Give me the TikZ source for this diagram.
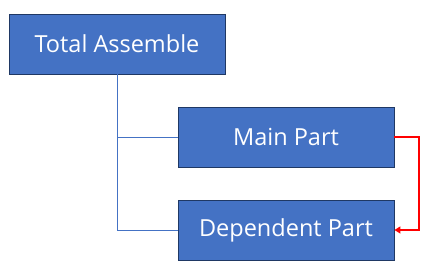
\documentclass[tikz,border=0pt]{standalone}
\usepackage{fontspec}
\setmainfont{Open Sans}
\usepackage{xcolor}
\usepackage{tikz}
\usetikzlibrary{positioning,arrows.meta}
\definecolor{partblue}{HTML}{4472C4}
\definecolor{partedge}{HTML}{1F3864}
\definecolor{linkred}{HTML}{FF0000}

\tikzset{
    partbox/.style={
        draw=partedge,
        fill=partblue,
        line width=0.9pt,
        text=white,
        minimum width=216pt,
        minimum height=60pt,
        inner sep=0pt,
        font=\fontsize{23.5}{26}\selectfont
    },
    treeline/.style={draw=partblue, line width=0.9pt},
    depline/.style={draw=linkred, line width=2.2pt, -{Triangle[length=6pt,width=7pt]}}
}

\begin{document}
\begin{tikzpicture}[x=1pt,y=-1pt]
\useasboundingbox (0,0) rectangle (432,280);

% tree
\node[partbox] (total) at (117,44) {Total Assemble};
\node[partbox] (main) at (286,137) {Main Part};
\node[partbox] (dep) at (286,230) {Dependent Part};

\draw[treeline] (total.south) |- (main.west);
\draw[treeline] (total.south) |- (dep.west);

% dependency
\coordinate (bend) at (419,137);
\draw[depline] (main.east) -- (bend) |- (dep.east);
\end{tikzpicture}
\end{document}
